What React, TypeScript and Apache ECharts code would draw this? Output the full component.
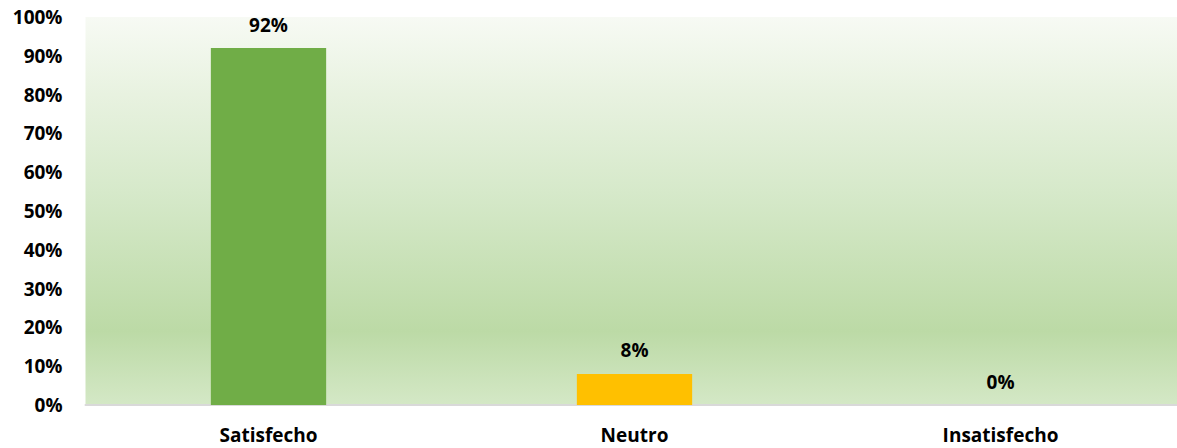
import React, { useEffect, useRef } from "react";
import * as echarts from "echarts";

const categories = ["Satisfecho", "Neutro", "Insatisfecho"];
const values = [92, 8, 0];
const barColors = ["#70ad47", "#ffc000", "#a5a5a5"];
const yTicks = [0, 10, 20, 30, 40, 50, 60, 70, 80, 90, 100];

const FONT = "'Open Sans', sans-serif";

export default function App() {
  const ref = useRef<HTMLDivElement>(null);
  useEffect(() => {
    document.body.style.margin = "0";
    const chart = echarts.init(ref.current!, null, { renderer: "svg" });
    chart.setOption({
      animation: false,
      backgroundColor: "#ffffff",
      grid: {
        left: 85.5,
        top: 17,
        right: -6.5,
        bottom: 43,
        outerBoundsMode: "none",
        show: true,
        borderWidth: 0,
        backgroundColor: new echarts.graphic.LinearGradient(0, 0, 0, 1, [
          { offset: 0, color: "#f7faf4" },
          { offset: 0.2, color: "#e8f2e0" },
          { offset: 0.45, color: "#d6e9ca" },
          { offset: 0.81, color: "#bcdaa6" },
          { offset: 1, color: "#d4e8c6" },
        ]),
      },
      xAxis: {
        type: "category",
        data: categories,
        axisLine: { show: true, lineStyle: { color: "#d9d9d9", width: 2 } },
        axisTick: { show: false },
        axisLabel: {
          color: "#000",
          fontFamily: FONT,
          fontWeight: "bold",
          fontSize: 19,
          margin: 20,
        },
      },
      yAxis: {
        type: "value",
        min: 0,
        max: 100,
        interval: 10,
        axisLine: { show: false },
        axisTick: { show: false },
        splitLine: { show: false },
        axisLabel: {
          color: "#000",
          fontFamily: FONT,
          fontWeight: "bold",
          fontSize: 19,
          margin: 23,
          formatter: (v: number) => (yTicks.includes(v) ? v + "%" : ""),
        },
      },
      series: [
        {
          type: "bar",
          barWidth: "31.5%",
          data: values.map((v, i) => ({ value: v, itemStyle: { color: barColors[i] } })),
          label: {
            show: true,
            position: "top",
            distance: 14,
            color: "#000",
            fontFamily: FONT,
            fontWeight: "bold",
            fontSize: 19,
            formatter: (p: any) => p.value + "%",
          },
        },
      ],
    });
    return () => chart.dispose();
  }, []);
  return (
    <div
      ref={ref}
      style={{ position: "fixed", left: 0, top: 0, width: 1177, height: 448 }}
    />
  );
}
